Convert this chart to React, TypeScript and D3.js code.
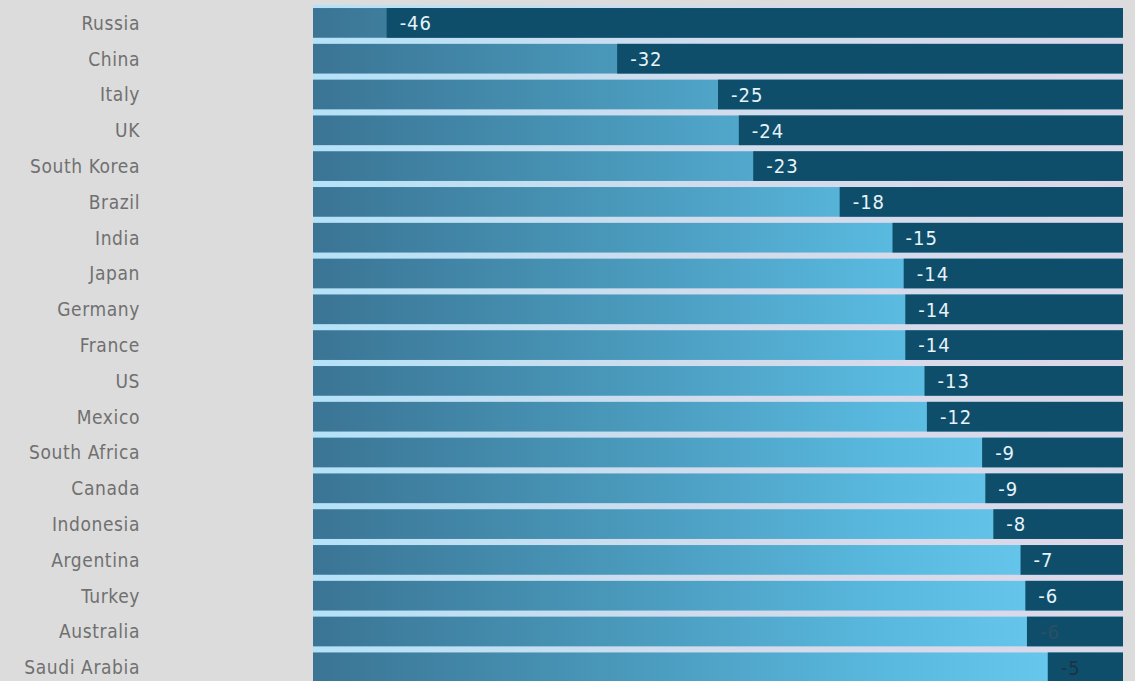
import React from "react";
import * as d3 from "d3";

const countries = [
  "Russia", "China", "Italy", "UK", "South Korea", "Brazil", "India", "Japan",
  "Germany", "France", "US", "Mexico", "South Africa", "Canada", "Indonesia",
  "Argentina", "Turkey", "Australia", "Saudi Arabia",
];
// bar values (position of the dark segment)
const values = [
  -46.0, -31.6, -25.3, -24.0, -23.1, -17.7, -14.4, -13.7, -13.6, -13.6,
  -12.4, -12.25, -8.8, -8.6, -8.1, -6.4, -6.1, -6.0, -4.7,
];
// labels as printed on the bars
const labels = [
  "-46", "-32", "-25", "-24", "-23", "-18", "-15", "-14", "-14", "-14",
  "-13", "-12", "-9", "-9", "-8", "-7", "-6", "-6", "-5",
];
const labelColors = [
  "#e6f3fa", "#e6f3fa", "#e6f3fa", "#e6f3fa", "#e6f3fa", "#e6f3fa", "#e6f3fa",
  "#e6f3fa", "#e6f3fa", "#e6f3fa", "#e6f3fa", "#e6f3fa", "#e6f3fa", "#e6f3fa",
  "#e6f3fa", "#e6f3fa", "#e6f3fa", "#2b4f63", "#1b3344",
];

const W = 1135;
const H = 681;
const font = "'DejaVu Sans Condensed', 'Liberation Sans Narrow', 'DejaVu Sans', sans-serif";

export default function App() {
  const x = d3.scaleLinear().domain([-50.6, 0]).range([313, 1123]);
  const y = d3
    .scaleBand<string>()
    .domain(countries)
    .range([5, 685.2])
    .paddingInner(0.17)
    .paddingOuter(0.085);
  const bw = y.bandwidth();

  return (
    <svg
      width={W}
      height={H}
      style={{ position: "absolute", left: 0, top: 0, display: "block" }}
    >
      <defs>
        <linearGradient id="lightGrad" gradientUnits="userSpaceOnUse" x1={x(-50.6)} x2={x(0)} y1={0} y2={0}>
          <stop offset="0%" stopColor="#3b7494" />
          <stop offset="35%" stopColor="#4896b8" />
          <stop offset="70%" stopColor="#59b8de" />
          <stop offset="100%" stopColor="#6ccdf3" />
        </linearGradient>
        <linearGradient id="gapGrad" gradientUnits="userSpaceOnUse" x1={x(-50.6)} x2={x(0)} y1={0} y2={0}>
          <stop offset="0%" stopColor="#b4e2f8" />
          <stop offset="50%" stopColor="#d2dcec" />
          <stop offset="100%" stopColor="#ddd8e8" />
        </linearGradient>
      </defs>
      <rect x={0} y={0} width={W} height={H} fill="#dcdcdc" />
      <rect
        x={x(-50.6)}
        y={(y(countries[0]) as number) - 3}
        width={x(0) - x(-50.6)}
        height={H}
        fill="url(#gapGrad)"
      />
      {countries.map((c, i) => {
        const yy = y(c) as number;
        const xv = x(values[i]);
        return (
          <g key={c}>
            <rect x={x(-50.6)} y={yy} width={x(0) - x(-50.6)} height={bw} fill="url(#lightGrad)" />
            <rect x={xv} y={yy} width={x(0) - xv} height={bw} fill="#0f4e6a" />
            <text
              x={xv + 13}
              y={yy + bw / 2}
              dy="0.36em"
              fill={labelColors[i]}
              fontFamily={font}
              fontSize={20}
              fontWeight={500}
              letterSpacing={1}
            >
              {labels[i]}
            </text>
            <text
              x={140}
              y={yy + bw / 2}
              dy="0.36em"
              textAnchor="end"
              fill="#707070"
              fontFamily={font}
              fontSize={19}
              letterSpacing={0.6}
            >
              {c}
            </text>
          </g>
        );
      })}
    </svg>
  );
}
